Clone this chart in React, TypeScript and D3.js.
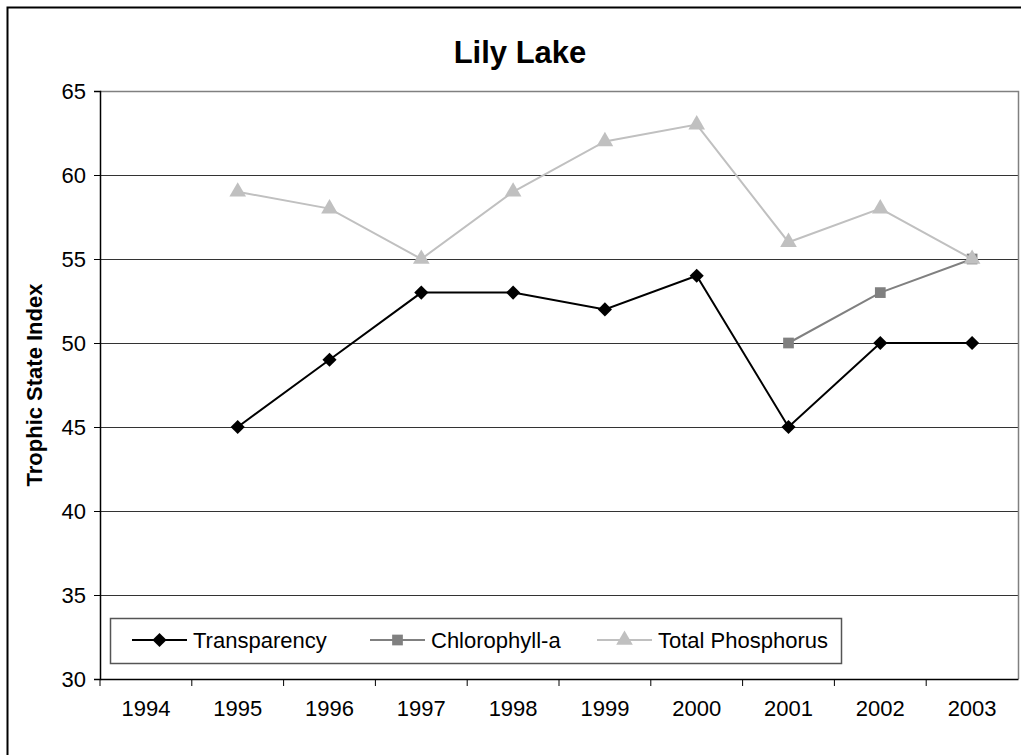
import React, { useEffect, useRef } from "react";
import * as d3 from "d3";

// data
const years = ["1994", "1995", "1996", "1997", "1998", "1999", "2000", "2001", "2002", "2003"];
const transparency: (number | null)[] = [null, 45, 49, 53, 53, 52, 54, 45, 50, 50];
const chlorophyll: (number | null)[] = [null, null, null, null, null, null, null, 50, 53, 55];
const phosphorus: (number | null)[] = [null, 59, 58, 55, 59, 62, 63, 56, 58, 55];
const yTicks = [30, 35, 40, 45, 50, 55, 60, 65];

const seriesNames = ["Transparency", "Chlorophyll-a", "Total Phosphorus"];
const seriesColors = ["#000000", "#808080", "#c0c0c0"];
const seriesShapes = [d3.symbolSquare, d3.symbolSquare, d3.symbolTriangle];
const seriesSizes = [100, 115, 120];
const seriesRotate = [45, 0, 0];

export default function App() {
  const ref = useRef<SVGSVGElement>(null);

  useEffect(() => {
    const svg = d3.select(ref.current);
    svg.selectAll("*").remove();
    const W = 1021, H = 755;
    const left = 100, right = 1018, top = 91, bottom = 679;
    const font = "Arial, 'Liberation Sans', sans-serif";

    // outer chart border
    svg.append("rect").attr("x", 7.5).attr("y", 7.5).attr("width", W + 10).attr("height", H + 10)
      .attr("fill", "white").attr("stroke", "#000").attr("stroke-width", 2);

    const x = d3.scaleBand().domain(years).range([left, right]).padding(0);
    const y = d3.scaleLinear().domain([30, 65]).range([bottom, top]);

    // gridlines
    svg.append("g").selectAll("line").data(yTicks.filter(t => t > 30 && t < 65)).enter()
      .append("line")
      .attr("x1", left).attr("x2", right)
      .attr("y1", d => Math.round(y(d)) + 0.5).attr("y2", d => Math.round(y(d)) + 0.5)
      .attr("stroke", "#333").attr("stroke-width", 1);

    // plot area border (top/right)
    svg.append("path")
      .attr("d", `M${left},${top + 0.5}H${right + 0.5}V${bottom}`)
      .attr("fill", "none").attr("stroke", "#808080").attr("stroke-width", 1.5);

    // y axis
    const yAxis = svg.append("g").attr("transform", `translate(${left},0)`)
      .call(d3.axisLeft(y).tickValues(yTicks).tickSize(6).tickPadding(8));
    yAxis.select(".domain").attr("stroke", "#000").attr("stroke-width", 1.5);
    yAxis.selectAll(".tick line").attr("stroke", "#000");
    yAxis.selectAll("text").attr("font-family", font).attr("font-size", 22).attr("fill", "#000");

    // x axis
    const xAxis = svg.append("g").attr("transform", `translate(0,${bottom})`)
      .call(d3.axisBottom(x).tickSize(0).tickPadding(21));
    xAxis.select(".domain").attr("stroke", "#000").attr("stroke-width", 1.5);
    xAxis.selectAll("text").attr("font-family", font).attr("font-size", 22).attr("fill", "#000");
    // category boundary ticks
    svg.append("g").selectAll("line").data(years).enter().append("line")
      .attr("x1", d => (x(d) as number)).attr("x2", d => (x(d) as number))
      .attr("y1", bottom).attr("y2", bottom + 7)
      .attr("stroke", "#000").attr("stroke-width", 1);

    // series, drawn in order so later series sit on top
    const allSeries = [transparency, chlorophyll, phosphorus];
    const cx = (i: number) => (x(years[i]) as number) + x.bandwidth() / 2;
    const line = d3.line<[number, number | null]>()
      .defined(d => d[1] != null)
      .x(d => cx(d[0]))
      .y(d => y(d[1] as number));
    [0, 1, 2].forEach(s => {
      const pts = allSeries[s].map((v, i) => [i, v] as [number, number | null]);
      svg.append("path").datum(pts).attr("d", line)
        .attr("fill", "none").attr("stroke", seriesColors[s]).attr("stroke-width", 2);
      svg.append("g").selectAll("path").data(pts.filter(p => p[1] != null)).enter()
        .append("path")
        .attr("d", d3.symbol().type(seriesShapes[s]).size(seriesSizes[s]))
        .attr("transform", d => `translate(${cx(d[0])},${y(d[1] as number)}) rotate(${seriesRotate[s]})`)
        .attr("fill", seriesColors[s]);
    });

    // title
    svg.append("text").attr("x", 520).attr("y", 63).attr("text-anchor", "middle")
      .attr("font-family", font).attr("font-size", 31).attr("font-weight", "bold").text("Lily Lake");

    // y label
    svg.append("text").attr("transform", `translate(42,${(top + bottom) / 2}) rotate(-90)`)
      .attr("text-anchor", "middle").attr("font-family", font).attr("font-size", 22)
      .attr("font-weight", "bold").text("Trophic State Index");

    // legend
    const lg = svg.append("g");
    lg.append("rect").attr("x", 110.5).attr("y", 618.5).attr("width", 731).attr("height", 45)
      .attr("fill", "white").attr("stroke", "#555").attr("stroke-width", 1.5);
    const lx = [132, 370, 597];
    seriesNames.forEach((name, s) => {
      const g = lg.append("g").attr("transform", `translate(${lx[s]},640)`);
      g.append("line").attr("x1", 0).attr("x2", 55).attr("y1", 0).attr("y2", 0)
        .attr("stroke", seriesColors[s]).attr("stroke-width", 2);
      g.append("path").attr("d", d3.symbol().type(seriesShapes[s]).size(seriesSizes[s]))
        .attr("transform", `translate(27.5,0) rotate(${seriesRotate[s]})`).attr("fill", seriesColors[s]);
      g.append("text").attr("x", 61).attr("y", 0).attr("dy", "0.35em")
        .attr("font-family", font).attr("font-size", 22).text(name);
    });
  }, []);

  return (
    <div style={{ position: "absolute", left: 0, top: 0 }}>
      <svg ref={ref} width={1021} height={755} style={{ display: "block", background: "white" }} />
    </div>
  );
}
